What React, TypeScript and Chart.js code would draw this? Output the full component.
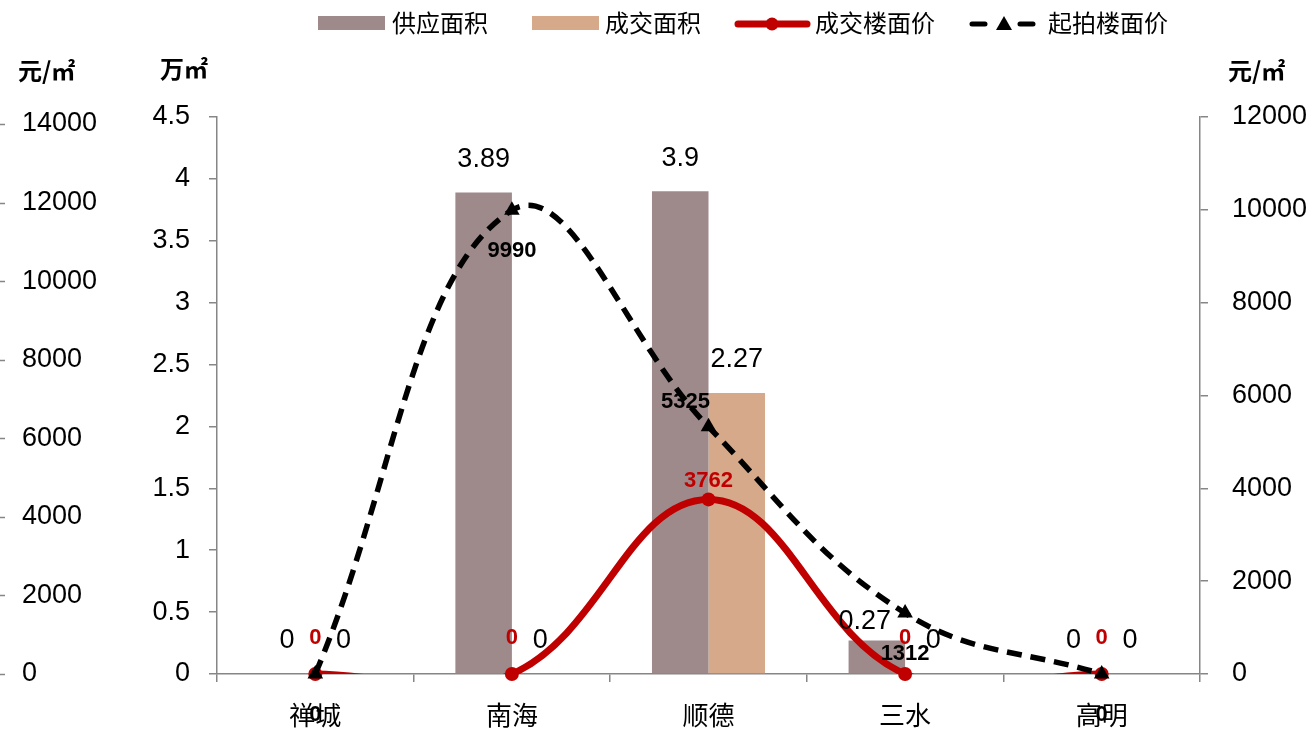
import React, { useEffect, useRef } from 'react';
import { Chart, registerables } from 'chart.js';

Chart.register(...registerables);

// ---- data ----
const categories = ['禅城', '南海', '顺德', '三水', '高明'];
const supplyArea = [0, 3.89, 3.9, 0.27, 0];
const dealArea = [0, 0, 2.27, 0, 0];
const dealPrice = [0, 0, 3762, 0, 0];
const startPrice = [0, 9990, 5325, 1312, 0];
const areaTicks = [0, 0.5, 1, 1.5, 2, 2.5, 3, 3.5, 4, 4.5];
const outerPriceTicks = [0, 2000, 4000, 6000, 8000, 10000, 12000, 14000];
const rightPriceTicks = [0, 2000, 4000, 6000, 8000, 10000, 12000];
const seriesNames = ['供应面积', '成交面积', '成交楼面价', '起拍楼面价'];
const unitPrice = '元/㎡';
const unitArea = '万㎡';

// ---- styles ----
const NUM_FONT = "'Liberation Sans', 'Noto Sans CJK SC', sans-serif";
const CJK_FONT = "'Noto Sans CJK SC', 'Liberation Sans', sans-serif";
const SUPPLY_COLOR = '#9e8a8b';
const DEAL_COLOR = '#d5a98a';
const RED = '#c00000';
const AXIS_GRAY = '#868686';

const blackLabelPlacement = ['below', 'below', 'aboveLeft', 'below', 'below'];
const supplyLabelNudge = [[0, 0], [0, 0], [0, 0], [-12, 14], [0, 0]];
const plainTick = (v: any) => String(v);

const overlayPlugin = {
  id: 'overlay',
  afterDatasetsDraw(chart: any) {
    const ctx = chart.ctx;
    ctx.save();
    ctx.textAlign = 'center';
    ctx.textBaseline = 'middle';
    // bar value labels
    [0, 1].forEach((di) => {
      const meta = chart.getDatasetMeta(di);
      const data = chart.data.datasets[di].data;
      ctx.font = `27px ${NUM_FONT}`;
      ctx.fillStyle = '#000';
      meta.data.forEach((el: any, i: number) => {
        const n = di === 0 ? supplyLabelNudge[i] : [0, 0];
        ctx.fillText(String(data[i]), el.x + n[0], el.y - 33 + n[1]);
      });
    });
    // red line labels
    {
      const meta = chart.getDatasetMeta(2);
      const data = chart.data.datasets[2].data;
      ctx.font = `bold 22px ${NUM_FONT}`;
      ctx.fillStyle = RED;
      meta.data.forEach((el: any, i: number) => {
        const off = data[i] === 0 ? 36 : 18;
        ctx.fillText(String(data[i]), el.x, el.y - off);
      });
    }
    // black line labels
    {
      const meta = chart.getDatasetMeta(3);
      const data = chart.data.datasets[3].data;
      ctx.font = `bold 22px ${NUM_FONT}`;
      ctx.fillStyle = '#000';
      meta.data.forEach((el: any, i: number) => {
        if (blackLabelPlacement[i] === 'aboveLeft') {
          ctx.fillText(String(data[i]), el.x - 23, el.y - 25);
        } else {
          ctx.fillText(String(data[i]), el.x, el.y + 41);
        }
      });
    }
    ctx.restore();
  },
  afterDraw(chart: any) {
    const ctx = chart.ctx;
    ctx.save();
    // outer axis small tick marks
    const so = chart.scales.yOuter;
    ctx.strokeStyle = AXIS_GRAY;
    ctx.lineWidth = 1.5;
    outerPriceTicks.forEach((v) => {
      const y = Math.round(so.getPixelForValue(v)) + 0.5;
      ctx.beginPath();
      ctx.moveTo(0, y);
      ctx.lineTo(5, y);
      ctx.stroke();
    });
    // axis titles
    ctx.fillStyle = '#000';
    ctx.textBaseline = 'middle';
    ctx.textAlign = 'left';
    ctx.font = `bold 24px ${CJK_FONT}`;
    ctx.fillText(unitPrice, 18, 71);
    ctx.fillText(unitArea, 160, 69);
    ctx.fillText(unitPrice, 1228, 71);

    // legend
    const ly = 23;
    ctx.font = `24px ${CJK_FONT}`;
    ctx.fillStyle = SUPPLY_COLOR;
    ctx.fillRect(318, 16, 67, 14);
    ctx.fillStyle = '#000';
    ctx.fillText(seriesNames[0], 392, ly);
    ctx.fillStyle = DEAL_COLOR;
    ctx.fillRect(532, 16, 67, 14);
    ctx.fillStyle = '#000';
    ctx.fillText(seriesNames[1], 605, ly);
    ctx.strokeStyle = RED;
    ctx.lineWidth = 7;
    ctx.lineCap = 'round';
    ctx.beginPath();
    ctx.moveTo(738, 24);
    ctx.lineTo(807, 24);
    ctx.stroke();
    ctx.fillStyle = RED;
    ctx.beginPath();
    ctx.arc(772, 24, 6.5, 0, Math.PI * 2);
    ctx.fill();
    ctx.fillStyle = '#000';
    ctx.fillText(seriesNames[2], 815, ly);
    ctx.strokeStyle = '#000';
    ctx.lineWidth = 5;
    ctx.lineCap = 'round';
    ctx.beginPath();
    ctx.moveTo(972, 24);
    ctx.lineTo(985, 24);
    ctx.moveTo(1020, 24);
    ctx.lineTo(1033, 24);
    ctx.stroke();
    ctx.fillStyle = '#000';
    ctx.beginPath();
    ctx.moveTo(1004, 16);
    ctx.lineTo(1012, 30);
    ctx.lineTo(996, 30);
    ctx.closePath();
    ctx.fill();
    ctx.fillText(seriesNames[3], 1048, ly);
    ctx.restore();
  },
};

export default function App() {
  const canvasRef = useRef<HTMLCanvasElement | null>(null);

  useEffect(() => {
    const canvas = canvasRef.current;
    if (!canvas) return;
    const chart = new Chart(canvas, {
      data: {
        labels: categories,
        datasets: [
          {
            type: 'bar',
            label: seriesNames[0],
            data: supplyArea,
            backgroundColor: SUPPLY_COLOR,
            borderWidth: 0,
            yAxisID: 'yL',
            order: 4,
            barPercentage: 1,
            categoryPercentage: 0.575,
          },
          {
            type: 'bar',
            label: seriesNames[1],
            data: dealArea,
            backgroundColor: DEAL_COLOR,
            borderWidth: 0,
            yAxisID: 'yL',
            order: 5,
            barPercentage: 1,
            categoryPercentage: 0.575,
          },
          {
            type: 'line',
            label: seriesNames[2],
            data: dealPrice,
            borderColor: RED,
            borderWidth: 7,
            tension: 0.4,
            pointRadius: 0,
            fill: false,
            yAxisID: 'yR',
            order: 3,
            clip: 0,
            capBezierPoints: false,
          } as any,
          {
            type: 'line',
            label: seriesNames[3],
            data: startPrice,
            borderColor: '#000',
            borderWidth: 5.5,
            borderDash: [15, 9],
            tension: 0.4,
            pointRadius: 0,
            fill: false,
            yAxisID: 'yR',
            order: 1,
            clip: 0,
            capBezierPoints: false,
          } as any,
          {
            type: 'line',
            label: seriesNames[2] + ' 点',
            data: dealPrice,
            showLine: false,
            pointRadius: 7,
            pointStyle: 'circle',
            pointBackgroundColor: RED,
            pointBorderColor: RED,
            pointBorderWidth: 0,
            yAxisID: 'yR',
            order: 2,
            clip: false,
          } as any,
          {
            type: 'line',
            label: seriesNames[3] + ' 点',
            data: startPrice,
            showLine: false,
            pointRadius: 9,
            pointStyle: 'triangle',
            pointBackgroundColor: '#000',
            pointBorderColor: '#000',
            pointBorderWidth: 0,
            yAxisID: 'yR',
            order: 0,
            clip: false,
          } as any,
        ],
      },
      options: {
        responsive: false,
        animation: false,
        devicePixelRatio: 1,
        layout: { padding: { top: 117, left: 22, right: 0, bottom: 0 } },
        plugins: {
          legend: { display: false },
          tooltip: { enabled: false },
          title: { display: false },
        },
        scales: {
          x: {
            type: 'category',
            offset: true,
            grid: {
              display: true,
              drawOnChartArea: false,
              offset: true,
              tickLength: 8,
              color: AXIS_GRAY,
              lineWidth: 1.5,
            },
            border: { display: true, color: AXIS_GRAY, width: 1.5 },
            ticks: {
              color: '#000',
              font: { family: CJK_FONT, size: 26 },
              padding: 18,
              maxRotation: 0,
            },
            afterFit: (s: any) => {
              s.height = 58;
            },
          },
          yOuter: {
            type: 'linear',
            position: 'left',
            weight: 1,
            min: 0,
            max: 14178,
            afterBuildTicks: (s: any) => {
              s.ticks = outerPriceTicks.map((v) => ({ value: v }));
            },
            grid: { display: false, drawTicks: false },
            border: { display: false },
            ticks: {
              color: '#000',
              font: { family: NUM_FONT, size: 27 },
              crossAlign: 'far',
              padding: 0,
              callback: plainTick,
            },
            afterFit: (s: any) => {
              s.width = 88;
            },
          },
          yL: {
            type: 'linear',
            position: 'left',
            weight: 0,
            min: 0,
            max: 4.5,
            afterBuildTicks: (s: any) => {
              s.ticks = areaTicks.map((v) => ({ value: v }));
            },
            grid: {
              display: true,
              drawOnChartArea: false,
              tickLength: 8,
              color: AXIS_GRAY,
              lineWidth: 1.5,
            },
            border: { display: true, color: AXIS_GRAY, width: 1.5 },
            ticks: {
              color: '#000',
              font: { family: NUM_FONT, size: 27 },
              padding: 19,
              callback: plainTick,
            },
            afterFit: (s: any) => {
              s.width = 107;
            },
          },
          yR: {
            type: 'linear',
            position: 'right',
            min: 0,
            max: 12000,
            afterBuildTicks: (s: any) => {
              s.ticks = rightPriceTicks.map((v) => ({ value: v }));
            },
            grid: {
              display: true,
              drawOnChartArea: false,
              tickLength: 8,
              color: AXIS_GRAY,
              lineWidth: 1.5,
            },
            border: { display: true, color: AXIS_GRAY, width: 1.5 },
            ticks: {
              color: '#000',
              font: { family: NUM_FONT, size: 27 },
              padding: 24,
              callback: plainTick,
            },
            afterFit: (s: any) => {
              s.width = 112;
            },
          },
        },
      } as any,
      plugins: [overlayPlugin],
    });
    return () => chart.destroy();
  }, []);

  return (
    <div style={{ position: 'fixed', left: 0, top: 0, width: 1312, height: 732, background: '#fff' }}>
      <canvas ref={canvasRef} width={1312} height={732} style={{ width: 1312, height: 732, display: 'block' }} />
    </div>
  );
}
